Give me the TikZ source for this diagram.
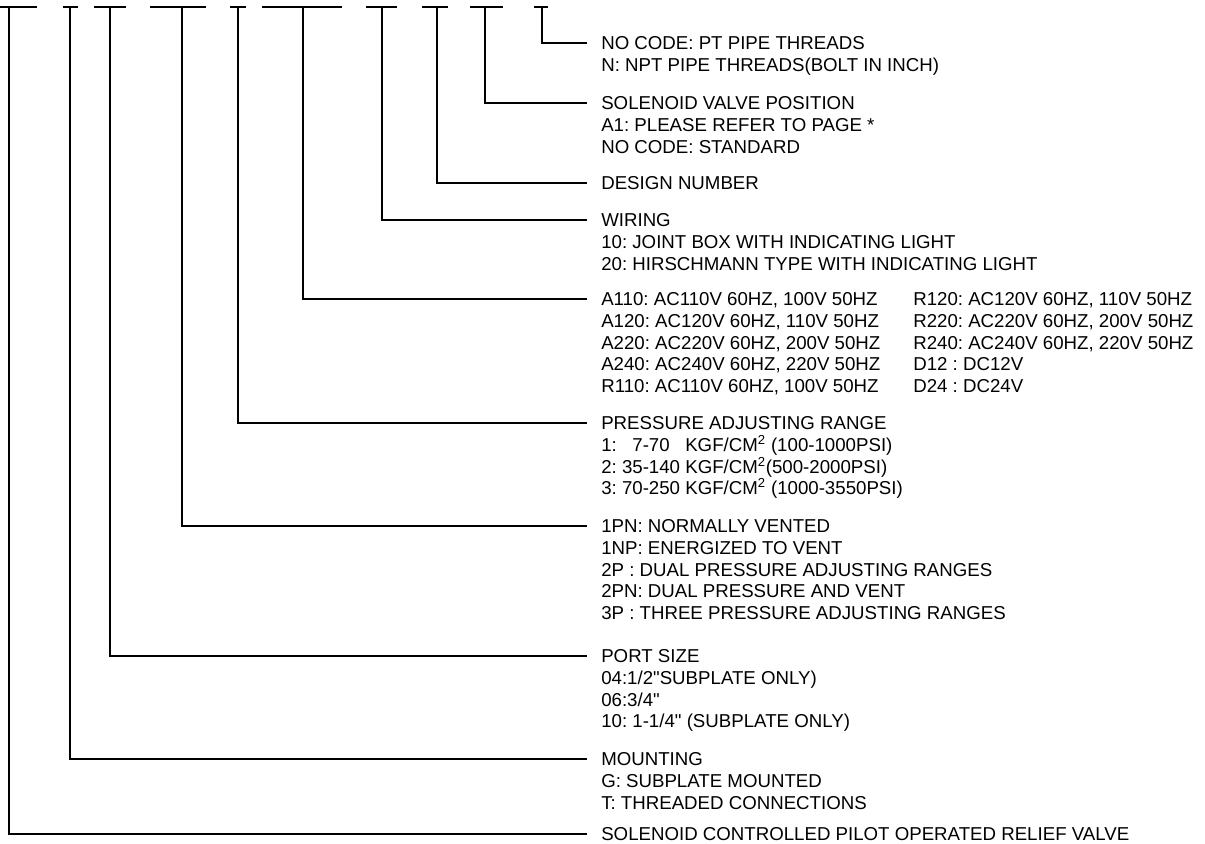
\documentclass[tikz,border=0pt]{standalone}
\usepackage{fontspec}
\newfontfamily\lsfont{Liberation Sans}
\begin{document}
\begin{tikzpicture}[x=0.75pt,y=-0.75pt,
  conn/.style={line width=1.5pt},
  lbl/.style={anchor=north west, inner sep=0pt, align=left,
    font=\lsfont\fontsize{14pt}{16.2pt}\selectfont\frenchspacing}]
\useasboundingbox (0,0) rectangle (1205,843);
% top code segments
\draw[conn] (0,7) -- (37,7);
\draw[conn] (63,7) -- (78,7);
\draw[conn] (94,7) -- (126,7);
\draw[conn] (150,7) -- (206,7);
\draw[conn] (230,7) -- (246,7);
\draw[conn] (262,7) -- (342,7);
\draw[conn] (366,7) -- (397,7);
\draw[conn] (422,7) -- (448,7);
\draw[conn] (470,7) -- (503,7);
\draw[conn] (534,7) -- (548,7);
% top points of the leaders
\coordinate (t1) at (8.5,7);
\coordinate (t2) at (70,7);
\coordinate (t3) at (110,7);
\coordinate (t4) at (182,7);
\coordinate (t5) at (238,7);
\coordinate (t6) at (303,7);
\coordinate (t7) at (382,7);
\coordinate (t8) at (437,7);
\coordinate (t9) at (485,7);
\coordinate (t10) at (542,7);
% leader ends
\coordinate (c1) at (587,834);
\coordinate (c2) at (587,759);
\coordinate (c3) at (587,656);
\coordinate (c4) at (587,526);
\coordinate (c5) at (587,423);
\coordinate (c6) at (587,299);
\coordinate (c7) at (587,220);
\coordinate (c8) at (587,183);
\coordinate (c9) at (587,103);
\coordinate (c10) at (587,43);
% labels
\node[lbl] (n10) at ([shift={(14,-6.4)}]c10) {NO CODE: PT PIPE THREADS\\N: NPT PIPE THREADS(BOLT IN INCH)};
\node[lbl] (n9) at ([shift={(14,-6.4)}]c9) {SOLENOID VALVE POSITION\\A1: PLEASE REFER TO PAGE *\\NO CODE: STANDARD};
\node[lbl] (n8) at ([shift={(14,-6.4)}]c8) {DESIGN NUMBER};
\node[lbl] (n7) at ([shift={(14,-6.4)}]c7) {WIRING\\10: JOINT BOX WITH INDICATING LIGHT\\20: HIRSCHMANN TYPE WITH INDICATING LIGHT};
\node[lbl] (n6) at ([shift={(14,-6.4)}]c6) {A110: AC110V 60HZ, 100V 50HZ\\A120: AC120V 60HZ, 110V 50HZ\\A220: AC220V 60HZ, 200V 50HZ\\A240: AC240V 60HZ, 220V 50HZ\\R110: AC110V 60HZ, 100V 50HZ};
\node[lbl] (n6b) at ([shift={(326,-6.4)}]c6) {R120: AC120V 60HZ, 110V 50HZ\\R220: AC220V 60HZ, 200V 50HZ\\R240: AC240V 60HZ, 220V 50HZ\\D12 : DC12V\\D24 : DC24V};
\node[lbl] (n5) at ([shift={(14,-6.4)}]c5) {PRESSURE ADJUSTING RANGE\\1:\ \ \ 7-70\ \ \ KGF/CM\textsuperscript{2} (100-1000PSI)\\2: 35-140 KGF/CM\textsuperscript{2}(500-2000PSI)\\3: 70-250 KGF/CM\textsuperscript{2} (1000-3550PSI)};
\node[lbl] (n4) at ([shift={(14,-6.4)}]c4) {1PN: NORMALLY VENTED\\1NP: ENERGIZED TO VENT\\2P : DUAL PRESSURE ADJUSTING RANGES\\2PN: DUAL PRESSURE AND VENT\\3P : THREE PRESSURE ADJUSTING RANGES};
\node[lbl] (n3) at ([shift={(14,-6.4)}]c3) {PORT SIZE\\04:1/2"SUBPLATE ONLY)\\06:3/4"\\10: 1-1/4" (SUBPLATE ONLY)};
\node[lbl] (n2) at ([shift={(14,-6.4)}]c2) {MOUNTING\\G: SUBPLATE MOUNTED\\T: THREADED CONNECTIONS};
\node[lbl] (n1) at ([shift={(14,-6.4)}]c1) {SOLENOID CONTROLLED PILOT OPERATED RELIEF VALVE};
% leaders
\foreach \i in {1,...,10} {\draw[conn] (t\i) |- (c\i);}
\end{tikzpicture}
\end{document}
